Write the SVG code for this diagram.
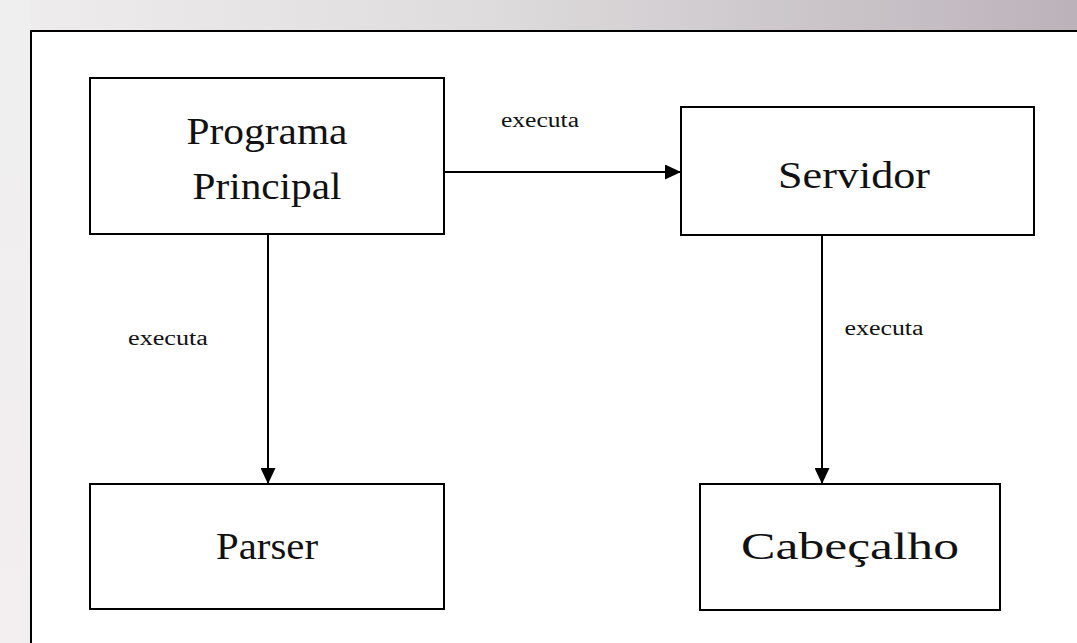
<svg xmlns="http://www.w3.org/2000/svg" width="1077" height="643" viewBox="0 0 1077 643">
<defs>
<linearGradient id="bg" x1="0" y1="0" x2="1" y2="0">
<stop offset="0" stop-color="#efeded"/>
<stop offset="0.45" stop-color="#dedcdd"/>
<stop offset="1" stop-color="#bcb3ba"/>
</linearGradient>
<linearGradient id="bgl" x1="0" y1="0" x2="0" y2="1">
<stop offset="0" stop-color="#efefef"/>
<stop offset="1" stop-color="#f3eef0"/>
</linearGradient>
<marker id="arr" markerWidth="16" markerHeight="15" refX="16" refY="7.5" orient="auto" markerUnits="userSpaceOnUse">
<path d="M0,0 L16,7.5 L0,15 Z" fill="#000"/>
</marker>
<style>
.box{fill:#fff;stroke:#000;stroke-width:2}
.big{font-family:"Liberation Serif","DejaVu Serif",serif;font-size:38px;fill:#111;text-anchor:middle}
.lbl{font-family:"Liberation Serif","DejaVu Serif",serif;font-size:20px;fill:#111;text-anchor:middle}
.con{stroke:#000;stroke-width:2;fill:none}
</style>
</defs>
<rect x="0" y="0" width="1077" height="643" fill="url(#bg)"/>
<rect x="0" y="0" width="31" height="643" fill="url(#bgl)"/>
<rect x="31" y="31" width="1060" height="630" fill="#fff" stroke="#000" stroke-width="2"/>
<g id="programa-principal">
<rect class="box" x="90" y="78" width="354" height="156"/>
<text class="big" x="267" y="144" textLength="161" lengthAdjust="spacingAndGlyphs">Programa</text>
<text class="big" x="267" y="199" textLength="149" lengthAdjust="spacingAndGlyphs">Principal</text>
</g>
<g id="servidor">
<rect class="box" x="681" y="107" width="353" height="128"/>
<text class="big" x="854" y="188" textLength="152" lengthAdjust="spacingAndGlyphs">Servidor</text>
</g>
<g id="parser">
<rect class="box" x="90" y="484" width="354" height="125"/>
<text class="big" x="267" y="559" textLength="102" lengthAdjust="spacingAndGlyphs">Parser</text>
</g>
<g id="cabecalho">
<rect class="box" x="700" y="484" width="300" height="126"/>
<text class="big" x="850" y="559" textLength="218" lengthAdjust="spacingAndGlyphs">Cabeçalho</text>
</g>
<g id="connectors">
<line class="con" x1="444" y1="172" x2="681" y2="172" marker-end="url(#arr)"/>
<line class="con" x1="268" y1="234" x2="268" y2="484" marker-end="url(#arr)"/>
<line class="con" x1="822" y1="235" x2="822" y2="484" marker-end="url(#arr)"/>
<text class="lbl" x="540" y="127" textLength="78" lengthAdjust="spacingAndGlyphs">executa</text>
<text class="lbl" x="168" y="345" textLength="80" lengthAdjust="spacingAndGlyphs">executa</text>
<text class="lbl" x="884" y="335" textLength="79" lengthAdjust="spacingAndGlyphs">executa</text>
</g>
</svg>
